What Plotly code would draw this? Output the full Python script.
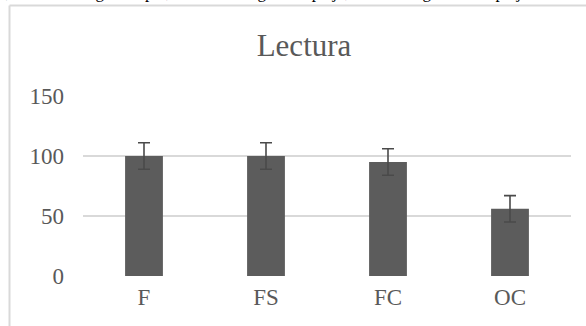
import plotly.graph_objects as go

categories = ["F", "FS", "FC", "OC"]
values = [100, 100, 95, 56]
errors = [11, 11, 11, 11]
y_ticks = [0, 50, 100, 150]
title_text = "Lectura"
top_caption = "a, FS = fonología simple, FC = fonología compleja, OC = ortografía compleja"

W, H = 586, 326
L, R, T, B = 83, 15, 96, 50
pw, ph = W - L - R, H - T - B

def px_x(x):
    return (x - L) / pw

def px_y(y):
    return 1 - (y - T) / ph

fig = go.Figure(go.Bar(
    x=categories, y=values,
    marker=dict(color="#5c5c5c", line=dict(width=0)),
    error_y=dict(type="data", array=errors, visible=True,
                 color="#4a4a4a", thickness=1.6, width=6),
    width=0.31,
))

fig.update_layout(
    width=W, height=H,
    margin=dict(l=L, r=R, t=T, b=B),
    paper_bgcolor="white", plot_bgcolor="white",
    showlegend=False,
    font=dict(family="Liberation Serif", color="#595959", size=23),
    title=dict(text=title_text, x=304 / W, xref="container", xanchor="center",
               y=1 - 45 / H, yref="container", yanchor="middle",
               font=dict(family="Liberation Serif", size=31, color="#595959")),
    xaxis=dict(showgrid=False, zeroline=False, showline=False, ticks="",
               ticklabelstandoff=5,
               tickfont=dict(family="Liberation Serif", size=23, color="#595959")),
    yaxis=dict(range=[0, 150], tickvals=y_ticks, showgrid=True,
               gridcolor="#d9d9d9", gridwidth=1.5, zeroline=False,
               showline=False, ticks="", ticklabelstandoff=18,
               tickfont=dict(family="Liberation Serif", size=23, color="#595959")),
    shapes=[
        dict(type="line", xref="paper", yref="paper",
             x0=px_x(9.5), x1=px_x(9.5), y0=px_y(5.5), y1=px_y(400),
             line=dict(color="#d9d9d9", width=2)),
        dict(type="line", xref="paper", yref="paper",
             x0=px_x(9.5), x1=px_x(700), y0=px_y(5.5), y1=px_y(5.5),
             line=dict(color="#d9d9d9", width=2)),
    ],
    annotations=[
        dict(text=top_caption, xref="paper", yref="paper",
             x=px_x(-4), y=px_y(4), xanchor="left", yanchor="bottom",
             showarrow=False,
             font=dict(family="Liberation Serif", size=17, color="black")),
    ],
)

fig.write_html("out.html", config={"displayModeBar": False},
               post_script="document.body.style.margin='0';document.body.style.overflow='hidden';")
